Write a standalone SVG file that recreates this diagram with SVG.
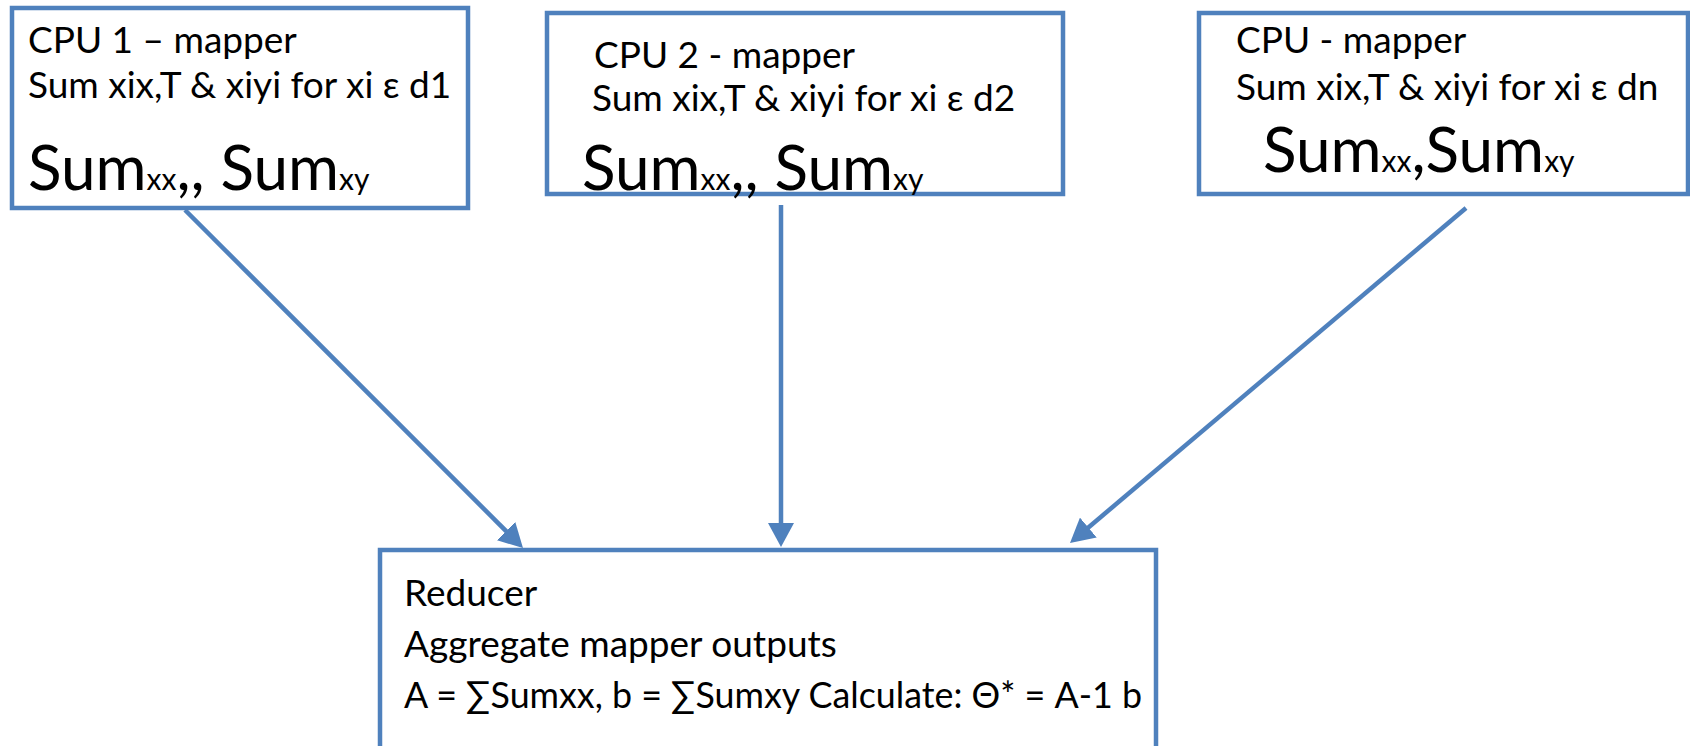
<svg xmlns="http://www.w3.org/2000/svg" width="1690" height="746" viewBox="0 0 1690 746">
  <style>
    .box { fill: #ffffff; stroke: #4F81BD; stroke-width: 4.5; }
    .txt { font-family: Lato, "Liberation Sans", sans-serif; font-size: 37px; fill: #000000; }
    .big { font-size: 62px; }
    .sub { font-size: 30px; }
    .conn { stroke: #4F81BD; stroke-width: 4.5; fill: none; marker-end: url(#head); }
  </style>
  <defs>
    <marker id="head" viewBox="0 0 24 26" refX="10" refY="13" markerWidth="24" markerHeight="26" markerUnits="userSpaceOnUse" orient="auto">
      <path d="M0,0 L24,13 L0,26 z" fill="#4F81BD"/>
    </marker>
  </defs>

  <rect width="1690" height="746" fill="#ffffff"/>

  <!-- mapper 1 -->
  <g id="cpu1">
    <rect class="box" x="12" y="8" width="456" height="200"/>
    <text class="txt" x="28" y="53" font-size="36">CPU 1 – mapper</text>
    <text class="txt" x="28" y="98">Sum xix,T &amp; xiyi for xi ε d1</text>
    <text class="txt big" x="28" y="190">Sum<tspan class="sub">xx</tspan>,, Sum<tspan class="sub">xy</tspan></text>
  </g>

  <!-- mapper 2 -->
  <g id="cpu2">
    <rect class="box" x="547" y="13" width="516" height="181"/>
    <text class="txt" x="594" y="68">CPU 2 - mapper</text>
    <text class="txt" x="592" y="111">Sum xix,T &amp; xiyi for xi ε d2</text>
    <text class="txt big" x="582" y="190">Sum<tspan class="sub">xx</tspan>,, Sum<tspan class="sub">xy</tspan></text>
  </g>

  <!-- mapper n -->
  <g id="cpun">
    <rect class="box" x="1199" y="13" width="489" height="181"/>
    <text class="txt" x="1236" y="53">CPU - mapper</text>
    <text class="txt" x="1236" y="100">Sum xix,T &amp; xiyi for xi ε dn</text>
    <text class="txt big" x="1263" y="172">Sum<tspan class="sub">xx</tspan>,Sum<tspan class="sub">xy</tspan></text>
  </g>

  <!-- reducer -->
  <g id="reducer">
    <rect class="box" x="380" y="550" width="776" height="220"/>
    <text class="txt" x="404" y="606">Reducer</text>
    <text class="txt" x="404" y="657">Aggregate mapper outputs</text>
    <text class="txt" x="404" y="708" textLength="738" lengthAdjust="spacingAndGlyphs">A = ∑Sumxx, b = ∑Sumxy Calculate: Θ* = A-1 b</text>
  </g>

  <!-- mapper → reducer connectors -->
  <g id="connectors">
    <line class="conn" x1="185" y1="210" x2="513.1" y2="538.1"/>
    <line class="conn" x1="781" y1="205" x2="781" y2="533"/>
    <line class="conn" x1="1466" y1="208" x2="1080.7" y2="534"/>
  </g>
</svg>
